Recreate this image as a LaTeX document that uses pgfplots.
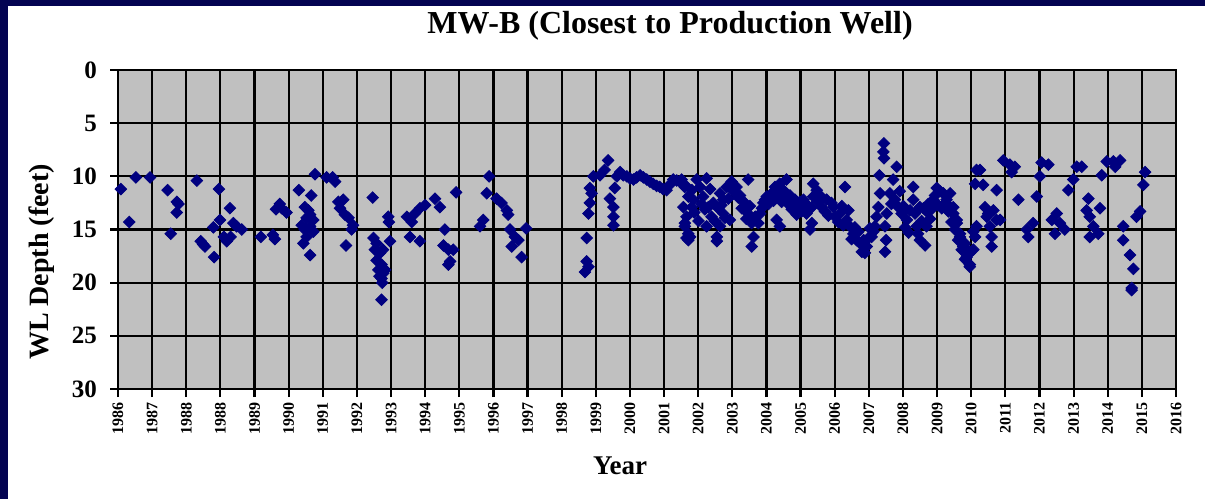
\documentclass[border=0pt]{standalone}
\usepackage{fontspec}
\setmainfont{Liberation Serif}
\usepackage{pgfplots}
\pgfplotsset{compat=1.18}

\definecolor{frameblue}{RGB}{4,4,82}
\definecolor{plotgray}{RGB}{192,192,192}
\definecolor{markblue}{RGB}{0,0,128}

% water level depth readings (decimal year, depth in feet)
\pgfplotstableread{
year depth
1986.15 11.2
1986.39 14.3
1986.58 10.1
1986.98 10.1
1987.48 11.3
1987.57 15.4
1987.74 12.4
1987.79 12.6
1987.74 13.4
1988.31 10.4
1988.42 16.1
1988.49 16.4
1988.54 16.6
1988.78 14.8
1988.80 17.6
1988.94 11.2
1988.97 14.1
1989.08 15.7
1989.16 16.1
1989.25 13.0
1989.27 15.7
1989.35 14.4
1989.44 14.7
1989.59 15.0
1990.13 15.7
1990.47 15.5
1990.53 15.9
1990.56 13.1
1990.67 12.6
1990.72 13.0
1990.86 13.4
1991.21 11.3
1991.29 14.6
1991.34 16.3
1991.38 12.9
1991.38 15.0
1991.43 13.9
1991.43 15.7
1991.48 13.2
1991.53 13.6
1991.53 14.7
1991.53 17.4
1991.56 11.8
1991.62 14.1
1991.62 15.2
1991.67 9.8
1992.00 10.1
1992.17 10.1
1992.24 10.5
1992.33 12.4
1992.38 13.0
1992.47 12.2
1992.52 13.6
1992.55 16.5
1992.62 13.9
1992.71 15.0
1992.75 14.6
1993.31 12.0
1993.33 15.8
1993.37 16.9
1993.42 16.3
1993.42 17.9
1993.47 18.8
1993.52 17.2
1993.56 18.3
1993.56 19.6
1993.56 21.6
1993.60 16.9
1993.61 19.1
1993.66 18.8
1993.50 19.4
1993.58 20.0
1993.75 13.8
1993.77 14.3
1993.80 16.1
1994.28 13.8
1994.37 15.7
1994.42 14.3
1994.51 13.5
1994.65 13.0
1994.65 16.1
1994.80 12.7
1995.08 12.1
1995.22 12.9
1995.32 16.5
1995.36 15.0
1995.46 16.9
1995.46 18.3
1995.51 18.0
1995.60 16.9
1995.68 11.5
1996.36 14.7
1996.45 14.1
1996.55 11.6
1996.62 10.0
1996.83 12.1
1996.97 12.5
1997.12 13.2
1997.16 13.6
1997.21 15.0
1997.26 16.6
1997.35 15.7
1997.45 16.0
1997.54 17.6
1997.67 14.9
1999.34 19.0
1999.39 15.8
1999.39 18.0
1999.44 18.5
1999.44 13.5
1999.48 12.5
1999.48 11.1
1999.53 11.6
1999.58 10.0
1999.77 9.9
1999.90 9.4
2000.00 8.5
2000.05 12.1
2000.15 12.9
2000.15 13.8
2000.15 14.6
2000.19 11.1
2000.25 10.0
2000.34 9.6
2000.43 9.9
2000.53 10.0
2000.62 10.2
2000.72 10.3
2000.81 10.1
2000.91 9.9
2001.00 10.1
2001.10 10.3
2001.19 10.5
2001.28 10.7
2001.38 10.9
2001.47 11.0
2001.56 11.2
2001.66 11.3
2001.75 10.8
2001.85 10.3
2001.95 10.4
2002.04 10.5
2002.09 10.3
2002.14 12.9
2002.18 10.8
2002.18 11.0
2002.18 14.4
2002.18 14.7
2002.23 13.8
2002.23 15.8
2002.28 11.9
2002.28 15.4
2002.28 16.0
2002.33 15.7
2002.38 11.3
2002.38 12.9
2002.42 12.2
2002.45 13.4
2002.52 10.3
2002.57 14.2
2002.61 11.0
2002.66 12.6
2002.70 11.9
2002.75 13.1
2002.80 10.2
2002.80 14.7
2002.85 12.9
2002.90 11.2
2002.94 13.8
2002.99 12.5
2003.03 14.2
2003.09 15.7
2003.09 16.1
2003.13 13.0
2003.18 11.6
2003.18 14.7
2003.22 12.7
2003.27 12.2
2003.27 13.5
2003.32 13.9
2003.37 11.0
2003.42 12.1
2003.46 14.1
2003.51 10.5
2003.56 11.4
2003.65 11.0
2003.70 12.0
2003.75 11.8
2003.80 13.0
2003.89 12.5
2003.93 14.0
2003.98 10.3
2003.98 13.5
2004.03 12.8
2004.08 14.4
2004.08 16.6
2004.13 15.7
2004.18 13.8
2004.27 14.4
2004.32 13.5
2004.37 13.0
2004.41 12.5
2004.46 12.2
2004.51 11.9
2004.56 12.6
2004.65 11.6
2004.70 12.3
2004.74 11.0
2004.79 14.1
2004.84 11.7
2004.88 10.7
2004.88 14.7
2004.93 12.4
2004.98 11.3
2005.02 11.8
2005.07 10.3
2005.12 12.6
2005.17 11.8
2005.22 13.1
2005.31 12.2
2005.36 13.6
2005.40 12.9
2005.45 12.4
2005.50 13.3
2005.55 12.2
2005.64 13.5
2005.69 12.8
2005.74 15.0
2005.79 12.9
2005.79 14.4
2005.83 11.9
2005.83 10.7
2005.93 11.3
2005.98 12.4
2006.02 11.8
2006.07 12.9
2006.16 13.3
2006.21 12.2
2006.26 13.7
2006.35 12.5
2006.40 12.9
2006.45 13.8
2006.54 14.3
2006.59 13.5
2006.64 12.8
2006.68 14.6
2006.73 11.0
2006.78 14.1
2006.83 13.2
2006.87 14.7
2006.92 15.9
2006.97 15.4
2007.01 14.8
2007.06 16.0
2007.11 15.2
2007.16 16.3
2007.21 17.1
2007.26 16.0
2007.30 17.2
2007.35 16.6
2007.40 15.8
2007.44 14.9
2007.49 15.7
2007.54 15.2
2007.58 14.7
2007.63 13.8
2007.68 12.9
2007.71 9.9
2007.73 11.6
2007.82 7.7
2007.84 6.9
2007.84 8.3
2007.87 14.7
2007.87 17.1
2007.90 16.0
2007.92 13.5
2008.01 11.6
2008.05 12.6
2008.10 10.3
2008.15 12.2
2008.20 9.1
2008.25 12.9
2008.29 11.4
2008.34 13.5
2008.39 12.8
2008.44 14.8
2008.49 14.1
2008.54 15.3
2008.58 13.2
2008.67 11.0
2008.67 12.2
2008.72 13.5
2008.77 14.7
2008.81 15.4
2008.86 12.9
2008.86 16.0
2008.91 14.2
2008.96 13.0
2009.01 16.5
2009.05 13.3
2009.05 14.7
2009.10 12.6
2009.15 14.0
2009.19 13.1
2009.24 12.2
2009.29 11.8
2009.34 11.1
2009.38 12.7
2009.43 11.4
2009.48 13.0
2009.53 11.6
2009.58 12.5
2009.62 12.2
2009.67 13.3
2009.72 11.6
2009.72 12.9
2009.76 14.3
2009.81 12.9
2009.81 13.5
2009.86 15.0
2009.91 14.1
2009.91 14.4
2009.95 16.0
2010.00 15.4
2010.00 15.7
2010.05 16.9
2010.09 16.6
2010.14 16.3
2010.14 17.8
2010.19 17.6
2010.24 17.0
2010.28 17.2
2010.28 18.3
2010.28 18.5
2010.38 15.2
2010.38 16.9
2010.43 15.7
2010.43 10.7
2010.47 14.7
2010.47 9.4
2010.57 9.4
2010.66 10.8
2010.71 12.9
2010.76 13.8
2010.80 13.5
2010.85 14.7
2010.90 15.7
2010.90 16.6
2010.95 13.2
2011.04 14.1
2011.04 11.3
2011.14 14.1
2011.23 8.5
2011.42 8.9
2011.47 9.6
2011.56 9.1
2011.66 12.2
2011.90 15.0
2011.94 15.7
2012.08 14.4
2012.18 11.9
2012.27 10.0
2012.32 8.7
2012.51 8.9
2012.61 14.1
2012.70 15.4
2012.75 13.5
2012.84 14.4
2012.98 15.0
2013.08 11.3
2013.22 10.3
2013.32 9.1
2013.46 9.1
2013.60 13.2
2013.65 12.1
2013.69 13.8
2013.69 15.7
2013.79 14.7
2013.93 15.4
2013.98 13.0
2014.03 9.9
2014.17 8.6
2014.36 8.6
2014.41 9.1
2014.55 8.5
2014.64 14.7
2014.64 16.0
2014.83 17.4
2014.88 20.5
2014.88 20.7
2014.93 18.7
2015.02 13.8
2015.12 13.3
2015.21 10.8
2015.26 9.6
}\wldata

\begin{document}
\begin{tikzpicture}
\useasboundingbox (0pt,0pt) rectangle (602.5pt,249.5pt);
\fill[white] (0pt,0pt) rectangle (602.5pt,249.5pt);
\fill[frameblue] (0pt,0pt) rectangle (4pt,249.5pt);
\fill[frameblue] (0pt,246.5pt) rectangle (602.5pt,249.5pt);

\begin{axis}[
    at={(59pt,55pt)}, anchor=south west,
    scale only axis,
    width=529pt, height=159.5pt,
    xmin=1986.07, xmax=2016.14,
    ymin=0, ymax=30,
    y dir=reverse,
    axis background/.style={fill=plotgray},
    xtick={1986.07,1987.04,1988.01,1988.98,1989.95,1990.92,1991.89,1992.86,
           1993.83,1994.80,1995.77,1996.74,1997.71,1998.68,1999.65,2000.62,
           2001.59,2002.56,2003.53,2004.50,2005.47,2006.44,2007.41,2008.38,
           2009.35,2010.32,2011.29,2012.26,2013.23,2014.20,2015.17,2016.14},
    xticklabels={1986,1987,1988,1988,1989,1990,1991,1992,1993,1994,1995,1996,
                 1997,1998,1999,2000,2001,2002,2003,2004,2005,2006,2007,2008,
                 2009,2010,2011,2012,2013,2014,2015,2016},
    ytick={0,5,10,15,20,25,30},
    grid=major,
    major grid style={black, line width=1.1pt},
    axis line style={black, line width=1.1pt},
    tick style={black, line width=1.1pt},
    tick align=outside,
    tick pos=left,
    major tick length=4pt,
    /pgf/number format/assume math mode=true,
    xticklabel shift=-1pt,
    yticklabel shift=3pt,
    xticklabel style={rotate=90, anchor=east, font=\fontsize{8}{8}\selectfont\bfseries},
    yticklabel style={font=\fontsize{12.5}{12.5}\selectfont\bfseries},
  ]
  \addplot[only marks, mark=square*, mark size=2.05pt,
           mark options={rotate=45, draw=markblue, fill=markblue}]
    table[x=year, y=depth] {\wldata};
\end{axis}

\node[font=\fontsize{16}{16}\selectfont\bfseries] at (335pt,236.5pt)
  {MW-B (Closest to Production Well)};
\node[font=\fontsize{14}{14}\selectfont\bfseries, rotate=90] at (21pt,118.5pt)
  {WL Depth (feet)};
\node[font=\fontsize{13.5}{13.5}\selectfont\bfseries] at (310pt,16.5pt) {Year};
\end{tikzpicture}
\end{document}
